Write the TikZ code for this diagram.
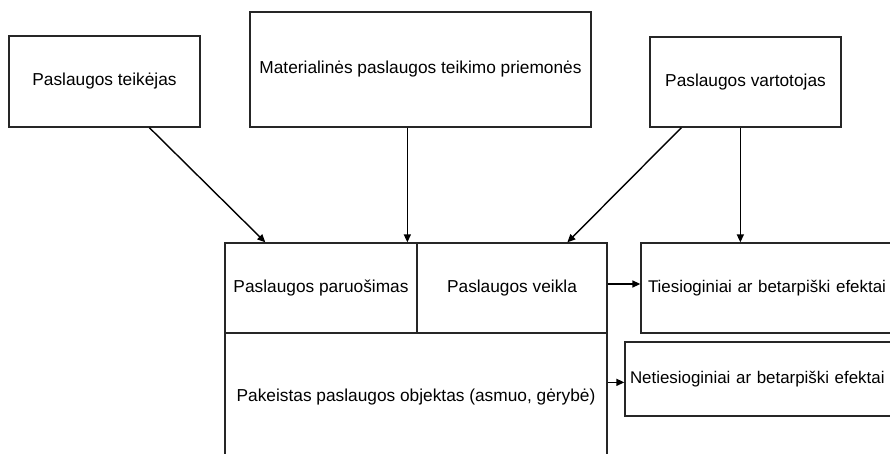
\documentclass[tikz,border=0pt]{standalone}
\usepackage{fontspec}
\setmainfont{Liberation Sans}
\usetikzlibrary{arrows.meta,calc}
\tikzset{
  box/.style={draw=black!85, line width=1.3pt, inner sep=0pt, font=\fontsize{17.3}{20}\selectfont, text=black},
  effbox/.style={box, font=\fontsize{16.9}{20}\selectfont, align=left},
  arr/.style={line width=1.4pt, draw=black, -{Triangle[length=8pt,width=7pt]}},
}
\begin{document}
\begin{tikzpicture}[x=1pt,y=-1pt]
\useasboundingbox (0,0) rectangle (890,453);
\clip (0,0) rectangle (890,453);
\fill[white] (0,0) rectangle (890,453);
\node[box, minimum width=191pt, minimum height=91pt] (b1) at (104.5,81.5) {Paslaugos teik\.{e}jas};
\node[box, minimum width=341pt, minimum height=115pt] (b2) at (420.5,69.5) {Materialin\.{e}s paslaugos teikimo priemon\.{e}s};
\node[box, minimum width=191pt, minimum height=90pt] (b3) at (745.5,82) {Paslaugos vartotojas};
\node[box, minimum width=192pt, minimum height=90pt] (prep) at (321,288) {Paslaugos paruošimas};
\node[box, minimum width=190pt, minimum height=90pt] (act) at (512,288) {Paslaugos veikla};
\node[box, minimum width=382pt, minimum height=137pt] (obj) at (416,401.5) {};
\node[box, draw=none] (objt) at (416,397) {Pakeistas paslaugos objektas (asmuo, g\.{e}ryb\.{e})};
\node[effbox, minimum width=269pt, minimum height=90pt, text width=255pt, inner xsep=7pt] (dir) at (775.5,288) {Tiesioginiai ar betarpiški efektai};
\node[effbox, minimum width=285pt, minimum height=74pt, text width=275pt, inner xsep=5pt] (ind) at (767.5,379) {Netiesioginiai ar betarpiški efektai};
\draw[arr] ($(b1.south west)+(141,0)$) -- ($(prep.north west)+(41,0)$);
\draw[arr] ($(b2.south west)+(158,0)$) -- ($(prep.north west)+(183,0)$);
\draw[arr] ($(b3.south west)+(32,0)$) -- ($(act.north west)+(151,0)$);
\draw[arr] ($(b3.south west)+(91,0)$) -- ($(dir.north west)+(100,0)$);
\draw[arr] ($(act.east)+(0,-4)$) -- ($(dir.west)+(0,-4)$);
\draw[arr] ($(obj.north east)+(0,50)$) -- ($(ind.north west)+(0,41)$);
\end{tikzpicture}
\end{document}
